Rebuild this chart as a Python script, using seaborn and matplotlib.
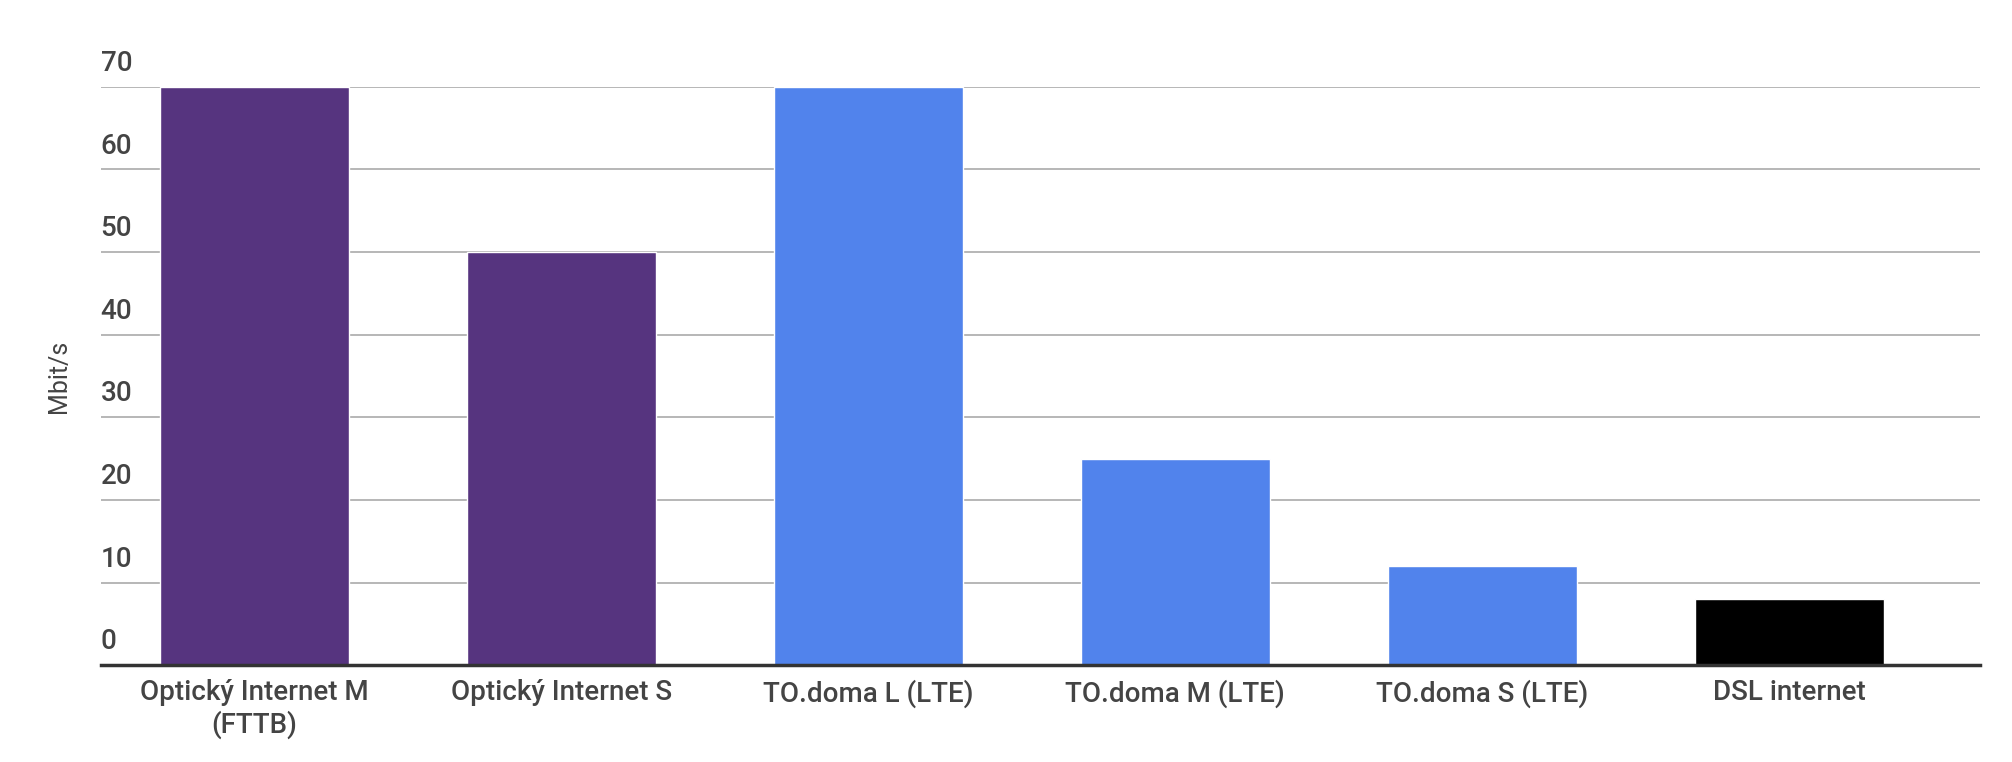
import matplotlib
matplotlib.use("Agg")
import matplotlib.pyplot as plt
import seaborn as sns
import pandas as pd

categories = ["Optický Internet M\n(FTTB)", "Optický Internet S", "TO.doma L (LTE)",
              "TO.doma M (LTE)", "TO.doma S (LTE)", "DSL internet"]
values = [70, 50, 70, 25, 12, 8]
colors = ["#56347f", "#56347f", "#5183ec", "#5183ec", "#5183ec", "#000000"]
yticks = [0, 10, 20, 30, 40, 50, 60, 70]

sns.set_theme(style="white")
plt.rcParams['font.family'] = ['Roboto', 'DejaVu Sans']

fig = plt.figure(figsize=(20.12, 7.62), dpi=100)
ax = fig.add_axes([0.05, 0.127, 0.934, 0.759])
df = pd.DataFrame({"cat": categories, "val": values})
sns.barplot(data=df, x="cat", y="val", hue="cat", palette=colors, legend=False,
            width=0.615, saturation=1, ax=ax, zorder=3)
ax.set_ylim(0, 70)
ax.set_xlim(-0.5, 5.62)
ax.set_yticks(yticks)
ax.set_yticklabels([])
ax.tick_params(axis='y', length=0)
ax.tick_params(axis='x', length=0, pad=10, labelsize=20, labelcolor="#444444")
for lab in ax.get_xticklabels():
    lab.set_fontweight('medium')
ax.grid(axis='y', color="#aaaaaa", linewidth=1.2, zorder=0)
for s in ["top", "right", "left"]:
    ax.spines[s].set_visible(False)
ax.spines["bottom"].set_color("#333333")
ax.spines["bottom"].set_linewidth(2.5)
ax.spines["bottom"].set_zorder(5)
for t in yticks:
    ax.text(0.0, t + 1.2, str(t), transform=ax.get_yaxis_transform(),
            fontsize=20, color="#444444", ha="left", va="bottom", fontweight='medium')
ax.set_xlabel("")
ax.set_ylabel("Mbit/s", fontsize=18, color="#444444", labelpad=18)
fig.savefig("out.png", dpi=100)
